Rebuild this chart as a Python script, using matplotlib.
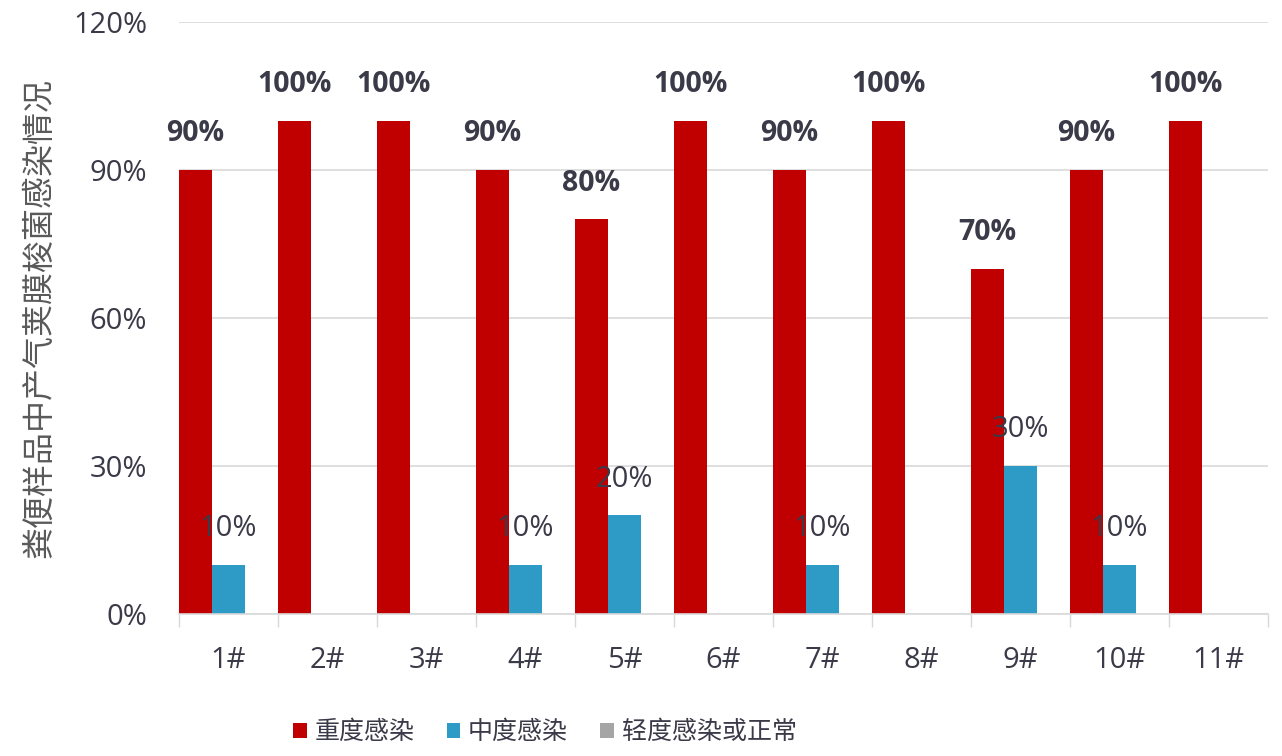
#!/usr/bin/env python3
"""
Grouped bar chart: C. perfringens infection levels in fecal samples.
"""

import matplotlib
matplotlib.use('Agg')
import matplotlib.pyplot as plt
from matplotlib.patches import Patch
import numpy as np

plt.rcParams['font.family'] = ['Open Sans', 'Noto Sans CJK SC', 'DejaVu Sans']

# data
samples = ['1#', '2#', '3#', '4#', '5#', '6#', '7#', '8#', '9#', '10#', '11#']
severe = [90, 100, 100, 90, 80, 100, 90, 100, 70, 90, 100]
moderate = [10, 0, 0, 10, 20, 0, 10, 0, 30, 10, 0]
mild = [0, 0, 0, 0, 0, 0, 0, 0, 0, 0, 0]
series_names = ['重度感染', '中度感染', '轻度感染或正常']
colors = ['#C00000', '#2E9AC6', '#A5A5A5']

TEXT = '#3b3a48'

fig = plt.figure(figsize=(12.82, 7.56), dpi=100)
ax = fig.add_axes([179 / 1282, 1 - 614 / 756, (1268 - 179) / 1282, (614 - 22) / 756])

x = np.arange(len(samples))
w = 1 / 3
for i, (vals, c) in enumerate(zip([severe, moderate, mild], colors)):
    ax.bar(x + (i - 1) * w, vals, width=w, color=c, zorder=2)

# value labels
for xi, v in zip(x, severe):
    ax.annotate(f'{v}%', (xi - w, v), xytext=(0, 26), textcoords='offset points',
                ha='center', va='center', fontsize=20.5, fontweight='bold',
                color=TEXT, zorder=5)
for xi, v in zip(x, moderate):
    if v > 0:
        ax.annotate(f'{v}%', (xi, v), xytext=(0, 26), textcoords='offset points',
                    ha='center', va='center', fontsize=21, color=TEXT, zorder=5)

ax.set_xlim(-0.5, len(samples) - 0.5)
ax.set_ylim(0, 120)
ax.set_yticks([0, 30, 60, 90, 120])
ax.set_yticklabels(['0%', '30%', '60%', '90%', '120%'])
ax.yaxis.grid(True, color='#D9D9D9', linewidth=1.2, zorder=0)
ax.set_axisbelow(True)

ax.set_xticks(x)
ax.set_xticklabels(samples)
ax.set_xticks(np.arange(len(samples) + 1) - 0.5, minor=True)
ax.tick_params(axis='x', which='major', length=0, pad=23, labelsize=21, labelcolor=TEXT)
ax.tick_params(axis='x', which='minor', length=9, width=1, color='#D9D9D9')
ax.tick_params(axis='y', length=0, pad=23, labelsize=21, labelcolor=TEXT)

for s in ['top', 'right', 'left']:
    ax.spines[s].set_visible(False)
ax.spines['bottom'].set_color('#D9D9D9')
ax.spines['bottom'].set_linewidth(1.2)

fig.text(0.031, 0.579, '粪便样品中产气荚膜梭菌感染情况', rotation=90,
         ha='center', va='center', fontsize=23, color='#595959')

handles = [Patch(facecolor=c, edgecolor='none') for c in colors]
fig.legend(handles, series_names, loc='center', bbox_to_anchor=(0.425, 0.031),
           ncol=3, frameon=False, fontsize=18, handlelength=0.55, handleheight=0.55,
           handletextpad=0.3, columnspacing=1.3, labelcolor=TEXT)

plt.savefig('out.png', dpi=100)
